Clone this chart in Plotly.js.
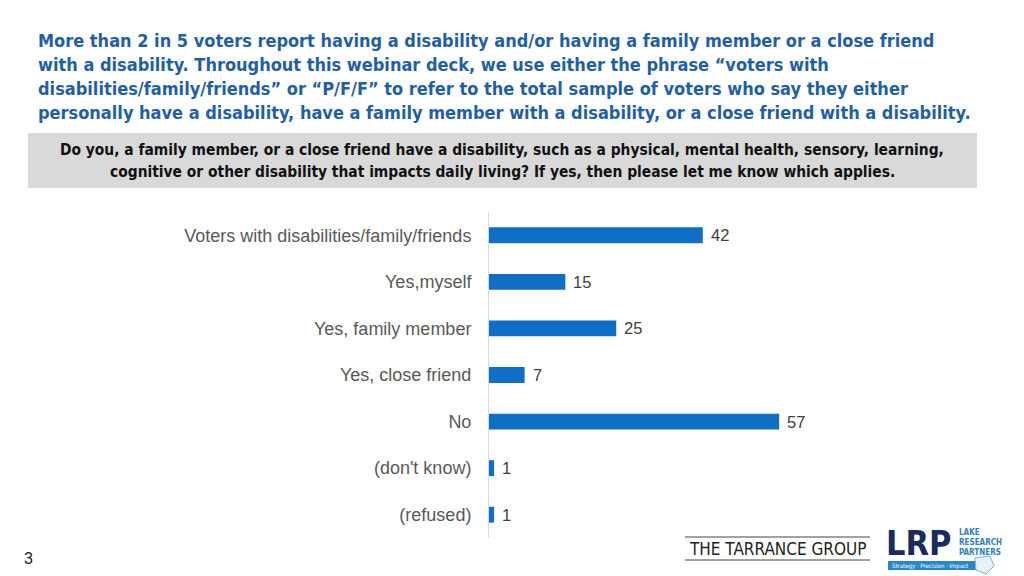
<!DOCTYPE html>
<html><head><meta charset="utf-8">
<script src="https://cdn.plot.ly/plotly-3.0.1.min.js"></script>
<style>html,body{margin:0;padding:0;background:#fff}#chart{width:1024px;height:576px}</style>
</head><body><div id="chart"></div>
<script>
const categories = ["Voters with disabilities/family/friends","Yes,myself","Yes, family member","Yes, close friend","No","(don't know)","(refused)"];
const values = [42,15,25,7,57,1,1];
const titleLines = [
 "More than 2 in 5 voters report having a disability and/or having a family member or a close friend",
 "with a disability. Throughout this webinar deck, we use either the phrase \u201cvoters with",
 "disabilities/family/friends\u201d or \u201cP/F/F\u201d to refer to the total sample of voters who say they either",
 "personally have a disability, have a family member with a disability, or a close friend with a disability."
];
const questionLines = [
 "Do you, a family member, or a close friend have a disability, such as a physical, mental health, sensory, learning,",
 "cognitive or other disability that impacts daily living? If yes, then please let me know which applies."
];
const pageNumber = "3";

const L=489,R=24,T=212,B=38,W=1024-L-R,H=576-T-B;
const X=p=>(p-L)/W, Y=p=>(576-B-p)/H;
const F="DejaVu Sans Condensed, Liberation Sans, sans-serif";
const ann=[];
titleLines.forEach((t,i)=>ann.push({xref:'paper',yref:'paper',x:X(36),y:Y(41+i*23.7),xanchor:'left',yanchor:'middle',showarrow:false,text:'<b>'+t+'</b>',font:{family:F,size:18,color:'#1f5fa6'}}));
questionLines.forEach((t,i)=>ann.push({xref:'paper',yref:'paper',x:X(502),y:Y(150+i*22),xanchor:'center',yanchor:'middle',showarrow:false,text:'<b>'+t+'</b>',font:{family:F,size:15.4,color:'#111'}}));
ann.push({xref:'paper',yref:'paper',x:X(28),y:Y(558),xanchor:'center',yanchor:'middle',showarrow:false,text:pageNumber,font:{family:'Liberation Sans',size:16,color:'#222'}});
ann.push({xref:'paper',yref:'paper',x:X(777),y:Y(549),xanchor:'center',yanchor:'middle',showarrow:false,text:'THE TARRANCE GROUP',font:{family:F,size:17,color:'#222'}});
ann.push({xref:'paper',yref:'paper',x:X(918),y:Y(543),xanchor:'center',yanchor:'middle',showarrow:false,text:'<b>LRP</b>',font:{family:F,size:34,color:'#1c2b5e'}});
['LAKE','RESEARCH','PARTNERS'].forEach((t,i)=>ann.push({xref:'paper',yref:'paper',x:X(957),y:Y(532+i*10),xanchor:'left',yanchor:'middle',showarrow:false,text:'<b>'+t+'</b>',font:{family:F,size:8,color:'#2f7fc1'}}));
ann.push({xref:'paper',yref:'paper',x:X(890),y:Y(565.5),xanchor:'left',yanchor:'middle',showarrow:false,text:'Strategy \u00b7 Precision \u00b7 Impact',font:{family:F,size:6,color:'#fff'}});
// value labels from data
categories.forEach((c,i)=>ann.push({xref:'x',yref:'y',x:values[i],y:c,xanchor:'left',yanchor:'middle',xshift:6,showarrow:false,text:String(values[i]),font:{family:'Liberation Sans',size:16.5,color:'#404040'}}));

const shapes=[
 {type:'rect',xref:'paper',yref:'paper',x0:X(28),x1:X(977),y0:Y(133),y1:Y(188),fillcolor:'#d9d9d9',line:{width:0},layer:'below'},
 {type:'line',xref:'paper',yref:'paper',x0:X(685),x1:X(870),y0:Y(537),y1:Y(537),line:{color:'#444',width:1}},
 {type:'line',xref:'paper',yref:'paper',x0:X(685),x1:X(870),y0:Y(560),y1:Y(560),line:{color:'#444',width:1}},
 {type:'rect',xref:'paper',yref:'paper',x0:X(888),x1:X(985),y0:Y(561),y1:Y(570),fillcolor:'#2a86c8',line:{width:0}},
 {type:'path',xref:'paper',yref:'paper',path:`M ${X(975)} ${Y(558)} L ${X(990)} ${Y(556)} L ${X(994)} ${Y(566)} L ${X(986)} ${Y(574)} L ${X(976)} ${Y(570)} Z`,fillcolor:'#e8f1fa',line:{color:'#7fb3de',width:1}}
];

Plotly.newPlot('chart',[{
 type:'bar',orientation:'h',y:categories,x:values,
 marker:{color:'#0f6fc6'},width:0.34,hoverinfo:'none'
}],{
 width:1024,height:576,margin:{l:L,r:R,t:T,b:B,pad:0},
 paper_bgcolor:'#fff',plot_bgcolor:'#fff',showlegend:false,
 xaxis:{range:[0,W/5.09],showgrid:false,zeroline:false,showticklabels:false,showline:false,fixedrange:true},
 yaxis:{autorange:'reversed',showgrid:false,zeroline:false,showline:true,linecolor:'#d9d9d9',linewidth:1,ticks:'',ticklabelstandoff:13,
   tickfont:{family:'Liberation Sans',size:18,color:'#595959'},fixedrange:true},
 annotations:ann,shapes:shapes
},{staticPlot:true});
</script></body></html>
